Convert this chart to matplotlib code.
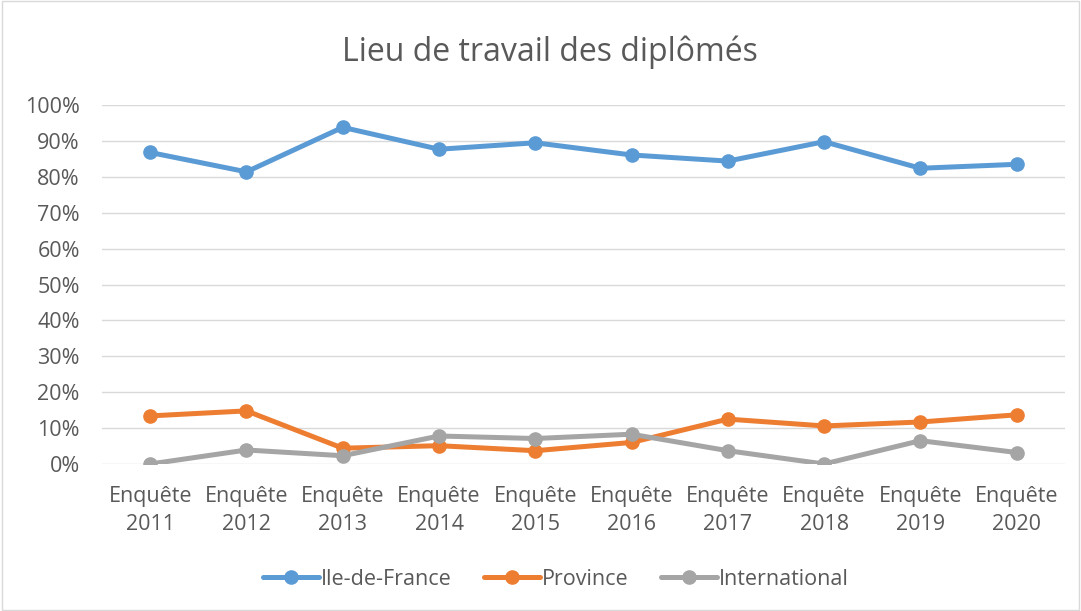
import matplotlib
matplotlib.use("Agg")
import matplotlib.pyplot as plt
from matplotlib.patches import Rectangle

years = ["2011", "2012", "2013", "2014", "2015", "2016", "2017", "2018", "2019", "2020"]
categories = ["Enquête\n" + y for y in years]
ile_de_france = [86.8, 81.4, 93.8, 87.7, 89.5, 86.1, 84.4, 89.8, 82.4, 83.5]
province = [13.4, 14.8, 4.4, 5.1, 3.7, 6.0, 12.5, 10.6, 11.7, 13.7]
international = [0.0, 3.9, 2.3, 7.8, 7.1, 8.3, 3.7, 0.0, 6.5, 3.2]
yticks = [0, 10, 20, 30, 40, 50, 60, 70, 80, 90, 100]

plt.rcParams['font.family'] = ['Open Sans', 'DejaVu Sans']
txt = '#595959'

fig = plt.figure(figsize=(10.81, 6.11), dpi=100)
fig.patches.append(Rectangle((0.002, 0.002), 0.996, 0.996, transform=fig.transFigure,
                             fill=False, edgecolor='#D9D9D9', linewidth=1))
ax = fig.add_axes([0.0944, 0.2406, 0.8906, 0.5874])

x = list(range(len(categories)))
series = [("Ile-de-France", ile_de_france, '#5B9BD5'),
          ("Province", province, '#ED7D31'),
          ("International", international, '#A5A5A5')]
for name, vals, col in series:
    ax.plot(x, vals, color=col, linewidth=3.6, marker='o', markersize=9.5,
            label=name, solid_capstyle='round', zorder=3)

ax.set_xlim(-0.5, len(categories) - 0.5)
ax.set_ylim(0, 100)
ax.set_yticks(yticks)
ax.set_yticklabels([f"{v}%" for v in yticks])
ax.set_xticks(x)
ax.set_xticklabels(categories)
ax.tick_params(axis='both', length=0, labelsize=15.5, colors=txt)
ax.tick_params(axis='x', pad=16)
ax.tick_params(axis='y', pad=16)
ax.grid(axis='y', color='#D9D9D9', linewidth=1)
ax.set_axisbelow(True)
for s in ax.spines.values():
    s.set_visible(False)
for lbl in ax.get_xticklabels():
    lbl.set_linespacing(1.4)

fig.text(0.509, 0.915, "Lieu de travail des diplômés", ha='center', va='center',
         fontsize=23, color=txt)

leg = fig.legend(loc='center', bbox_to_anchor=(0.514, 0.052), ncol=3, frameon=False,
                 fontsize=15.5, handlelength=2.6, columnspacing=1.5, handletextpad=0.1)
for t in leg.get_texts():
    t.set_color(txt)

fig.savefig("out.png", dpi=100)
